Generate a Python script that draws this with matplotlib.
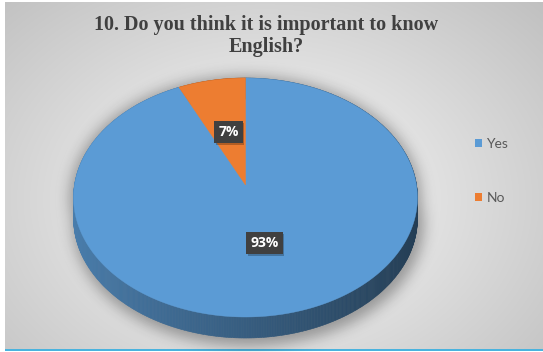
import numpy as np
import matplotlib
matplotlib.use("Agg")
import matplotlib.pyplot as plt
from matplotlib.path import Path
from matplotlib.patches import Polygon, Rectangle, Patch
from matplotlib.collections import PolyCollection
from matplotlib.colors import to_rgb

# ---- data ----
title = "10. Do you think it is important to know\nEnglish?"
categories = ["Yes", "No"]
values = [93, 7]
colors = ["#5b9bd5", "#ed7d31"]

W, H = 543, 352
fig = plt.figure(figsize=(W / 100, H / 100), dpi=100)
ax = fig.add_axes([0, 0, 1, 1])
ax.set_xlim(0, W)
ax.set_ylim(H, 0)
ax.axis("off")

# ---- chart area background: soft radial gradient ----
X0, X1, Y0, Y1 = 5, W, 2, 349
yy, xx = np.mgrid[0:H, 0:W] + 0.5
t = np.sqrt(((xx - 265) / 300.0) ** 2 + ((yy - 200) / 225.0) ** 2)
g = np.clip(251 - 46 * t, 185, 252) / 255.0
bg = np.dstack([g, g, g])
inside = (xx >= X0) & (xx <= X1) & (yy >= Y0) & (yy <= Y1)
bg[~inside] = 1.0
ax.imshow(bg, extent=(0, W, H, 0), origin="upper", zorder=0, interpolation="bilinear")
ax.add_patch(Rectangle((X0, Y1), X1 - X0, 2.3, facecolor="#4ab3de", edgecolor="none", zorder=1))

# ---- 3D pie geometry (perspective-projected disc) ----
CX, CY = 245.5, 185.0
A, B, K = 171.0, 118.2, 0.1046
DEPTH = 21.0


def proj(theta, r=1.0):
    u = r * np.cos(theta)
    v = r * np.sin(theta)
    w = 1 + K * v
    return CX + A * u / w, CY - B * v / w


fracs = np.array(values, dtype=float) / np.sum(values)
# slices run clockwise starting at 12 o'clock
ends = np.pi / 2 - np.cumsum(fracs) * 2 * np.pi
starts = np.concatenate([[np.pi / 2], ends[:-1]])

# soft drop shadow under the disc
th = np.linspace(0, 2 * np.pi, 400)
sx, sy = proj(th, 1.02)
pts = np.column_stack([xx.ravel(), yy.ravel()])
m1 = Path(np.column_stack([sx, sy])).contains_points(pts)
m2 = Path(np.column_stack([sx + 3, sy + DEPTH + 5])).contains_points(pts)
mask = (m1 | m2).reshape(H, W).astype(float)


def blur(img, s):
    r = int(3 * s)
    k = np.exp(-np.arange(-r, r + 1) ** 2 / (2 * s * s))
    k /= k.sum()
    img = np.apply_along_axis(lambda c: np.convolve(c, k, mode="same"), 0, img)
    img = np.apply_along_axis(lambda c: np.convolve(c, k, mode="same"), 1, img)
    return img


sh = blur(mask, 7.0)
shadow = np.zeros((H, W, 4))
shadow[..., 3] = sh * 0.33
ax.imshow(shadow, extent=(0, W, H, 0), origin="upper", zorder=2, interpolation="bilinear")

# side wall, shaded darker towards the right
quads, qcols, qdepth = [], [], []
for s0, e0, col in zip(starts, ends, colors):
    n = max(int(abs(s0 - e0) / (2 * np.pi) * 720), 4)
    ang = np.linspace(s0, e0, n + 1)
    px, py = proj(ang)
    base = np.array(to_rgb(col))
    for i in range(n):
        q = [(px[i], py[i]), (px[i + 1], py[i + 1]),
             (px[i + 1], py[i + 1] + DEPTH), (px[i], py[i] + DEPTH)]
        am = 0.5 * (ang[i] + ang[i + 1])
        f = 0.60 - 0.21 * np.cos(am)
        quads.append(q)
        qcols.append(np.clip(base * f, 0, 1))
        qdepth.append(np.sin(am))
order = np.argsort(qdepth)[::-1]
ax.add_collection(PolyCollection([quads[i] for i in order],
                                 facecolors=[qcols[i] for i in order],
                                 edgecolors=[qcols[i] for i in order],
                                 linewidths=0.4, zorder=3))

# top faces
for s0, e0, col in zip(starts, ends, colors):
    n = max(int(abs(s0 - e0) / (2 * np.pi) * 720), 4)
    ang = np.linspace(s0, e0, n + 1)
    px, py = proj(ang)
    poly = np.vstack([[CX, CY], np.column_stack([px, py])])
    ax.add_patch(Polygon(poly, closed=True, facecolor=col, edgecolor=col,
                         linewidth=0.3, zorder=4))

# data labels
for s0, e0, v in zip(starts, ends, values):
    mid = 0.5 * (s0 + e0)
    lx, ly = proj(mid, 0.48)
    ax.text(lx + 1.5, ly + 1.5, f"{v}%", ha="center", va="center", fontsize=10,
            fontweight="bold", color="none", family="Open Sans", zorder=5,
            bbox=dict(boxstyle="square,pad=0.3", facecolor="#000000", alpha=0.25,
                      edgecolor="none"))
    ax.text(lx, ly, f"{v}%", ha="center", va="center", fontsize=10,
            fontweight="bold", color="white", family="Open Sans", zorder=6,
            bbox=dict(boxstyle="square,pad=0.3", facecolor="#404040",
                      edgecolor="none"))

# title
ax.text(266, 36, title, ha="center", va="center", fontsize=14.5, fontweight="bold",
        family="Liberation Serif", color="#404040", linespacing=1.12, zorder=6)

# legend
handles = [Patch(facecolor=c, edgecolor="none") for c in colors]
leg = ax.legend(handles, categories, loc="center left",
                bbox_to_anchor=(462 / W, 1 - 171 / H), frameon=False,
                labelspacing=3.0, handlelength=0.55, handleheight=0.55,
                handletextpad=0.3, labelcolor="#595959",
                prop={"family": "Lato", "size": 10})

fig.savefig("out.png", dpi=100)
